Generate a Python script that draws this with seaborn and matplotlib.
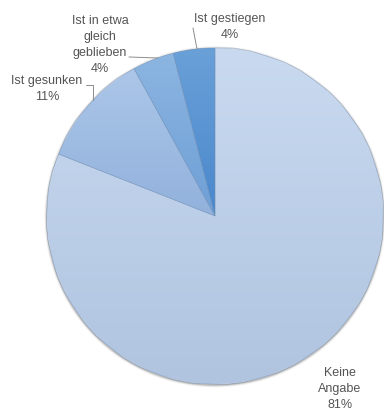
import matplotlib
matplotlib.use("Agg")
import matplotlib.pyplot as plt
import matplotlib.colors as mcolors
import numpy as np
import seaborn as sns

# Survey answers and their shares (percent)
categories = ["Ist gestiegen", "Ist in etwa\ngleich\ngeblieben", "Ist gesunken", "Keine\nAngabe"]
shares = [4, 4, 11, 81]
# light (top) and dark (bottom) tone of each slice's vertical shading
tops = ["#6aa0d8", "#8cb5e1", "#abc6e8", "#c9daf0"]
bottoms = ["#4a88cc", "#6e9fd6", "#92b1dc", "#b0c4e0"]

sns.set_theme(style="white")
plt.rcParams["font.family"] = ["Liberation Sans", "DejaVu Sans"]

W, H = 384, 413
fig = plt.figure(figsize=(W / 100, H / 100), dpi=100)
ax = fig.add_axes([0, 0, 1, 1])


def Y(y):
    """Pixel row measured from the top -> axes y."""
    return H - y


cx, cy, r = 215, 216, 168
palette = sns.color_palette(tops)

# soft shadow ring around the pie
for grow, a in [(2.5, 0.15), (1.5, 0.3), (0.8, 0.45)]:
    ax.add_patch(plt.Circle((cx, Y(cy) - 0.8), r + grow, color="#9a9a9a",
                            alpha=a, zorder=0, linewidth=0))

wedges, _ = ax.pie(shares, colors=palette, startangle=90, counterclock=True,
                   center=(cx, Y(cy)), radius=r, frame=True,
                   wedgeprops=dict(linewidth=0))

# vertical shading inside every slice
for w, top, bot in zip(wedges, tops, bottoms):
    ext = w.get_path().get_extents(w.get_patch_transform())
    c0 = np.array(mcolors.to_rgb(top))
    c1 = np.array(mcolors.to_rgb(bot))
    t = np.linspace(0, 1, 128)[:, None]
    grad = (c0 * (1 - t) + c1 * t)[:, None, :]
    im = ax.imshow(grad, extent=[ext.x0, ext.x1, ext.y0, ext.y1],
                   origin="upper", aspect="auto", zorder=2, interpolation="bilinear")
    im.set_clip_path(w)

# faint slice borders
for w in wedges:
    ax.add_patch(plt.Polygon(w.get_path().vertices, closed=True, fill=False,
                             edgecolor="#6f8fb8", linewidth=0.4, alpha=0.6, zorder=3))

ax.set_xlim(0, W)
ax.set_ylim(0, H)
ax.set_aspect("equal")
ax.axis("off")

txt = dict(ha="center", va="center", fontsize=9, color="#555555", linespacing=1.45)
labels = [f"{c}\n{v}%" for c, v in zip(categories, shares)]
ax.text(230, Y(27), labels[0], **txt)
ax.text(100, Y(45), labels[1], **txt)
ax.text(47, Y(89), labels[2], **txt)
ax.text(340, Y(389), labels[3], **txt)

line = dict(color="#8c8c8c", linewidth=0.7, zorder=4)
ax.plot([193, 197], [Y(28), Y(49)], **line)
ax.plot([129, 158], [Y(57), Y(58)], **line)
ax.plot([86, 93, 93], [Y(85), Y(85), Y(100)], **line)

fig.savefig("out.png", dpi=100)
